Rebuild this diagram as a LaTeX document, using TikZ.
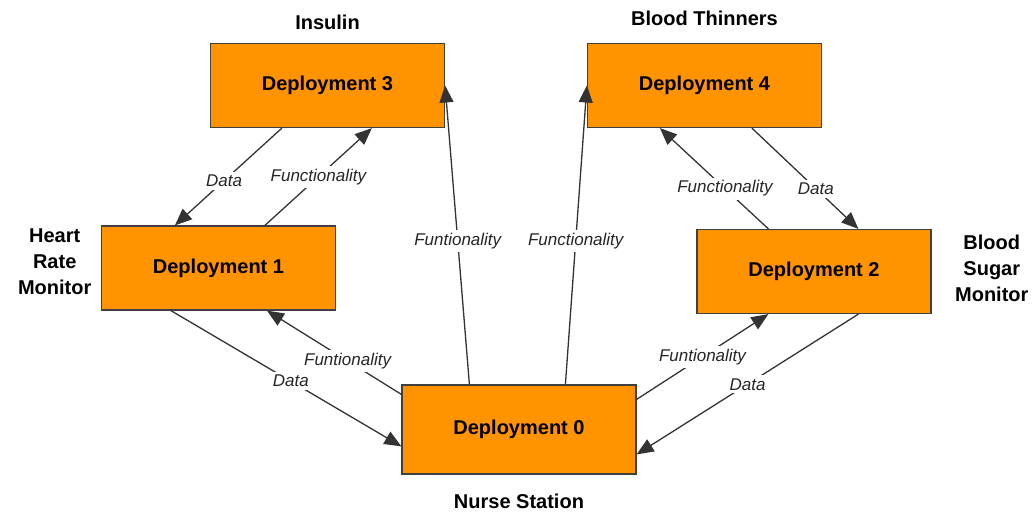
\documentclass[tikz,border=0pt]{standalone}
\usepackage{fontspec}
\setmainfont{Liberation Sans}
\usetikzlibrary{arrows.meta,positioning}

\begin{document}
\begin{tikzpicture}[
  x=1pt, y=-1pt,
  every node/.style={align=center},
  box/.style={draw=black!75, line width=1.2pt, fill=orange!85!yellow, minimum width=234pt, minimum height=84pt, font=\fontsize{20}{24}\selectfont\bfseries},
  title/.style={font=\fontsize{20}{26}\selectfont\bfseries},
  lbl/.style={fill=white, inner sep=3pt, font=\fontsize{17}{20}\selectfont\itshape, text=black!85},
  arr/.style={draw=black!80, line width=1.3pt, -{Triangle[length=17pt,width=14pt]}}
]
\useasboundingbox (0,0) rectangle (1036,515);

\node[box] (d3) at (327.5,85.5) {Deployment 3};
\node[box] (d4) at (704.5,85.5) {Deployment 4};
\node[box] (d1) at (218.5,268) {Deployment 1};
\node[box] (d2) at (814,271.5) {Deployment 2};
\node[box, minimum height=89pt] (d0) at (519,429.5) {Deployment 0};

\node[title, above=10pt of d3] (insulin) {Insulin};
\node[title, above=14pt of d4] (thinners) {Blood Thinners};
\node[title, left=6pt of d1, yshift=6pt] (heart) {Heart\\Rate\\Monitor};
\node[title, right=20pt of d2, yshift=3pt] (sugar) {Blood\\Sugar\\Monitor};
\node[title, below=16pt of d0] (nurse) {Nurse Station};

% top left pair
\draw[arr] ([xshift=72pt]d3.south west) -- node[lbl, pos=0.54]{Data} ([xshift=74pt]d1.north west);
\draw[arr] ([xshift=164pt]d1.north west) -- node[lbl]{Functionality} ([xshift=162pt]d3.south west);

% top right pair
\draw[arr] ([xshift=72pt]d2.north west) -- node[lbl, pos=0.4]{Functionality} ([xshift=73pt]d4.south west);
\draw[arr] ([xshift=165pt]d4.south west) -- node[lbl, pos=0.6]{Data} ([xshift=162pt]d2.north west);

% nurse station links
\draw[arr] ([xshift=70pt]d1.south west) -- node[lbl, pos=0.52]{Data} ([yshift=-62pt]d0.north west);
\draw[arr] ([yshift=-10pt]d0.north west) -- node[lbl, pos=0.4]{Funtionality} ([xshift=166pt]d1.south west);
\draw[arr] ([yshift=-15pt]d0.north east) -- node[lbl]{Funtionality} ([xshift=72pt]d2.south west);
\draw[arr] ([xshift=162pt]d2.south west) -- node[lbl]{Data} ([yshift=-70pt]d0.north east);
\draw[arr] ([xshift=68pt]d0.north west) -- node[lbl, pos=0.48]{Funtionality} (d3.east);
\draw[arr] ([xshift=164pt]d0.north west) -- node[lbl, pos=0.48]{Functionality} (d4.west);

\end{tikzpicture}
\end{document}
